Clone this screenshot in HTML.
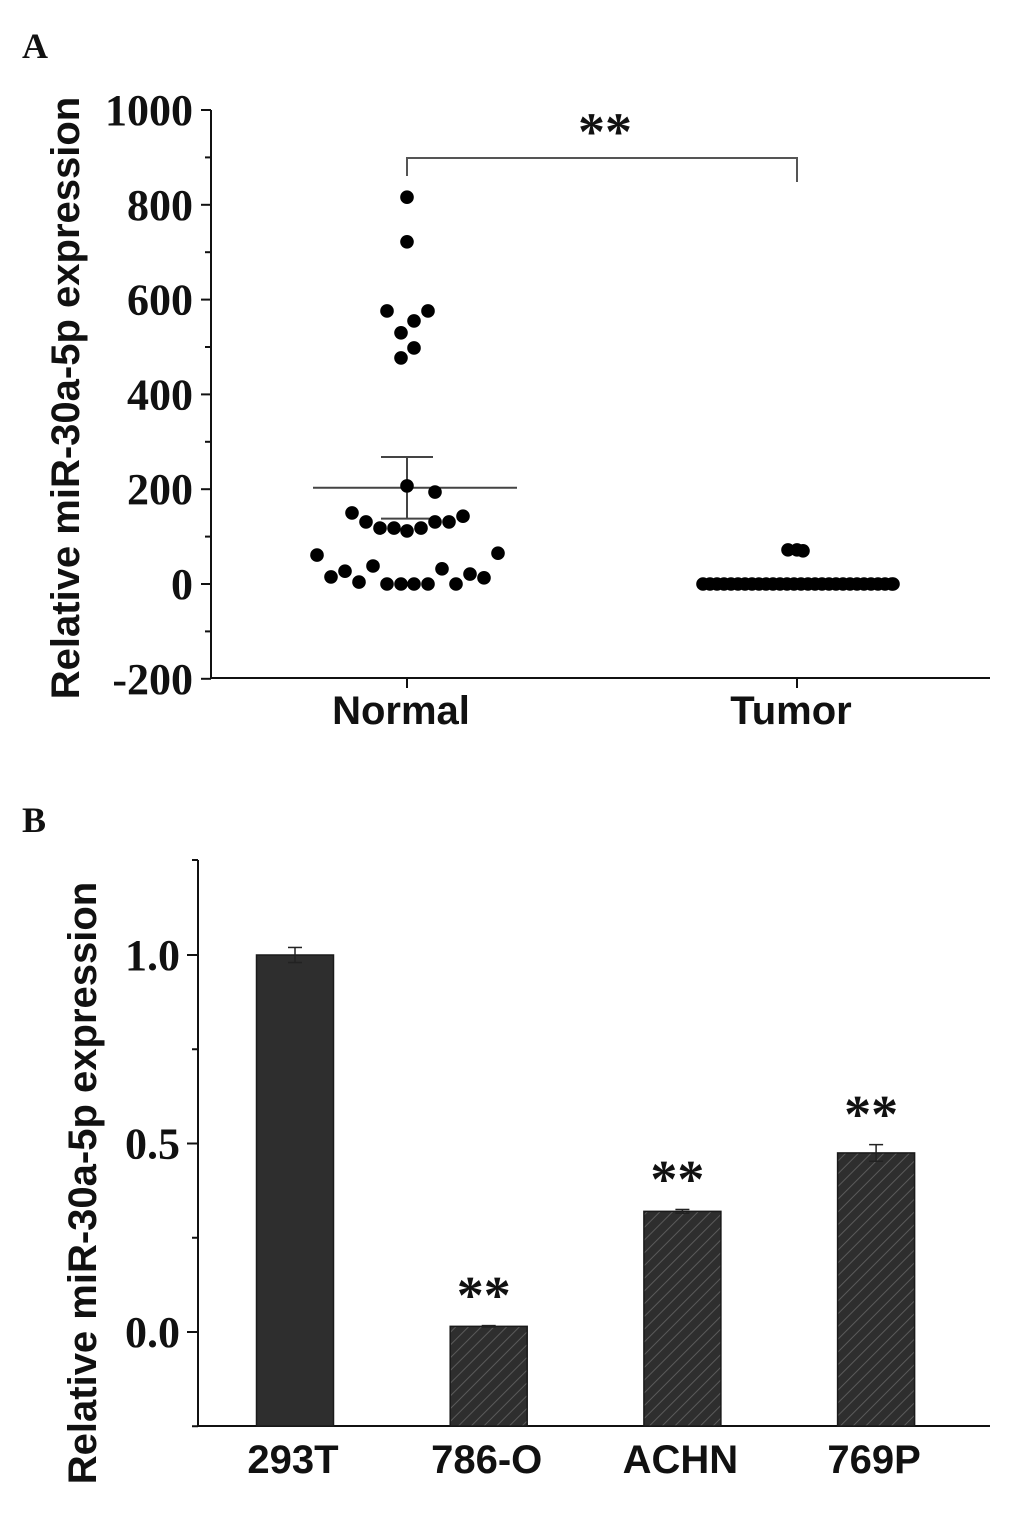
<!DOCTYPE html>
<html><head><meta charset="utf-8"><style>
html,body{margin:0;padding:0;background:#fff;}
svg{display:block;}
.tl{font-family:"Liberation Serif",serif;font-weight:bold;font-size:44px;fill:#111;}
.sans{font-family:"Liberation Sans",sans-serif;font-weight:bold;fill:#111;}
</style></head><body>
<svg id="fig" width="1033" height="1516" viewBox="0 0 1033 1516" xmlns="http://www.w3.org/2000/svg">
<defs>
<pattern id="hatch" patternUnits="userSpaceOnUse" width="9" height="9" patternTransform="rotate(45)">
<rect width="9" height="9" fill="#2e2e2e"/><line x1="0" y1="0" x2="0" y2="9" stroke="#5a5a5a" stroke-width="2"/>
</pattern>
</defs>
<text x="22" y="58" class="tl" font-size="36" style="font-size:36px">A</text>
<text x="22" y="832" class="tl" style="font-size:36px">B</text>
<g id="A"></g>
<g id="B"></g>
</svg>
<script>
// Panel A data
const aCategories = ["Normal","Tumor"];
const aTicks = [1000,800,600,400,200,0,-200];
const normalValues = [816,722,576,576,555,530,498,477,207,194,150,131,118,118,112,118,131,131,143,61,15,27,4,38,0,0,0,0,32,0,21,13,65];
const normalJitter = [0,0,-20,21,7,-6,7,-6,0,28,-55,-41,-27,-13,0,14,28,42,56,-90,-76,-62,-48,-34,-20,-6,7,21,35,49,63,77,91];
const tumorValues = [72,72,70,0,0,0,0,0,0,0,0,0,0,0,0,0,0,0,0,0,0,0,0,0,0,0,0,0,0,0,0,0];
const tumorJitter = [-9,0,6,-94,-87,-80,-73,-66,-59,-52,-45,-38,-31,-24,-17,-10,-3,4,11,18,25,32,39,46,53,60,67,74,81,88,95,96];
const aMean = [203];
const aSem = [65];
// Panel B data
const bCategories = ["293T","786-O","ACHN","769P"];
const bValues = [1.0,0.015,0.32,0.475];
const bErrors = [0.02,0.002,0.005,0.022];
const bTicks = ["1.0","0.5","0.0"];
const bSig = ["","**","**","**"];

const NS="http://www.w3.org/2000/svg";
function mk(p,tag,attrs,txt){const e=document.createElementNS(NS,tag);for(const k in attrs)e.setAttribute(k,attrs[k]);if(txt!==undefined)e.textContent=txt;p.appendChild(e);return e;}

// ----- Panel A
const A=document.getElementById('A');
const ay=v=>584-v*0.474;
const ax=i=>407+i*390;
let e;
e=mk(A,'line',{x1:211,y1:110,x2:211,y2:679,stroke:'#111','stroke-width':2});

e=mk(A,'line',{x1:210,y1:678,x2:990,y2:678,stroke:'#111','stroke-width':2});

for(let v=-200;v<=1000;v+=100){const big=v%200===0;mk(A,'line',{x1:big?201:205,y1:ay(v),x2:211,y2:ay(v),stroke:'#111','stroke-width':2});}
aTicks.forEach(v=>{e=mk(A,'text',{x:193,y:ay(v)+15,'text-anchor':'end',class:'tl'},String(v));
});
aCategories.forEach((c,i)=>{mk(A,'line',{x1:ax(i),y1:678,x2:ax(i),y2:688,stroke:'#111','stroke-width':2});
e=mk(A,'text',{x:ax(i)-6,y:724,'text-anchor':'middle',class:'sans','font-size':40},c);
});
e=mk(A,'text',{transform:'translate(79,398) rotate(-90)','text-anchor':'middle',class:'sans','font-size':40},'Relative miR-30a-5p expression');

// mean & sem
aMean.forEach((m,i)=>{const cx=ax(i);
e=mk(A,'line',{x1:cx-94,y1:ay(m),x2:cx+110,y2:ay(m),stroke:'#444','stroke-width':2});

mk(A,'line',{x1:cx,y1:ay(m+aSem[i]),x2:cx,y2:ay(m-aSem[i]),stroke:'#444','stroke-width':2});
mk(A,'line',{x1:cx-26,y1:ay(m+aSem[i]),x2:cx+26,y2:ay(m+aSem[i]),stroke:'#444','stroke-width':2});
mk(A,'line',{x1:cx-26,y1:ay(m-aSem[i]),x2:cx+26,y2:ay(m-aSem[i]),stroke:'#444','stroke-width':2});});
normalValues.forEach((v,i)=>{e=mk(A,'circle',{cx:ax(0)+normalJitter[i],cy:ay(v),r:6.8,fill:'#000'});
});
tumorValues.forEach((v,i)=>{e=mk(A,'circle',{cx:ax(1)+tumorJitter[i],cy:ay(v),r:6.8,fill:'#000'});
});
e=mk(A,'path',{d:`M${ax(0)} 176 V158 H${ax(1)} V182`,fill:'none',stroke:'#555','stroke-width':2});

e=mk(A,'text',{x:605,y:150,'text-anchor':'middle',class:'tl','font-size':54,style:'font-size:54px'},'**');


// ----- Panel B
const B=document.getElementById('B');
const by=v=>1332-v*377;
const bx=i=>295+i*193.7;
e=mk(B,'line',{x1:198,y1:860,x2:198,y2:1427,stroke:'#111','stroke-width':2});

e=mk(B,'line',{x1:197,y1:1426,x2:990,y2:1426,stroke:'#111','stroke-width':2});

mk(B,'line',{x1:192,y1:860,x2:198,y2:860,stroke:'#111','stroke-width':2});
[-0.25,0,0.25,0.5,0.75,1.0].forEach(v=>{const big=Math.abs(v*2-Math.round(v*2))<1e-6;mk(B,'line',{x1:big?187:192,y1:by(v),x2:198,y2:by(v),stroke:'#111','stroke-width':2});});
bTicks.forEach(t=>{e=mk(B,'text',{x:180,y:by(parseFloat(t))+15,'text-anchor':'end',class:'tl'},t);
});
e=mk(B,'text',{transform:'translate(96,1183) rotate(-90)','text-anchor':'middle',class:'sans','font-size':40},'Relative miR-30a-5p expression');

bCategories.forEach((c,i)=>{const cx=bx(i),v=bValues[i];
e=mk(B,'rect',{x:cx-38.5,y:by(v),width:77,height:1426-by(v),fill:i===0?'#2e2e2e':'url(#hatch)',stroke:'#1a1a1a','stroke-width':1.5});

const t=by(v+bErrors[i]),b=by(v-bErrors[i]);
mk(B,'line',{x1:cx,y1:t,x2:cx,y2:b,stroke:'#222','stroke-width':1.5});
mk(B,'line',{x1:cx-7,y1:t,x2:cx+7,y2:t,stroke:'#222','stroke-width':1.5});
mk(B,'line',{x1:cx-7,y1:b,x2:cx+7,y2:b,stroke:'#222','stroke-width':1.5});
if(bSig[i]){e=mk(B,'text',{x:cx-5,y:t-12,'text-anchor':'middle',class:'tl',style:'font-size:54px'},bSig[i]);
}
e=mk(B,'text',{x:cx-2,y:1473,'text-anchor':'middle',class:'sans','font-size':40},c);
});
</script>
</body></html>
